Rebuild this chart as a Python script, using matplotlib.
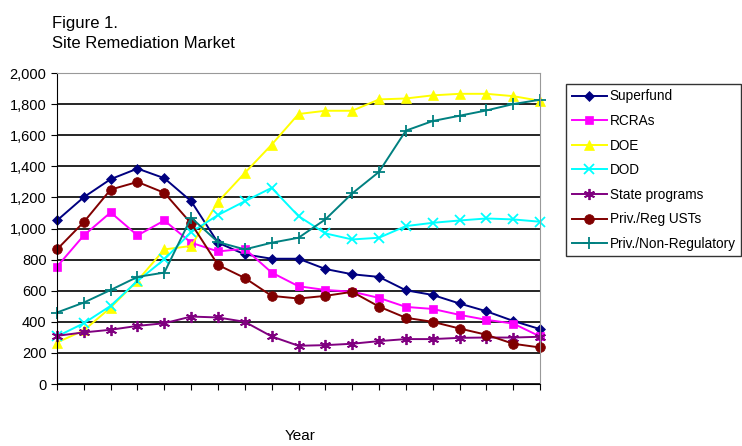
import matplotlib.pyplot as plt
import numpy as np

plt.rcParams['font.family'] = ['Liberation Sans', 'DejaVu Sans']

superfund = [1052, 1202, 1318, 1386, 1324, 1176, 909, 834, 806, 806, 740, 706, 689, 603, 573, 518, 468, 406, 353]
rcras = [755, 956, 1104, 956, 1052, 909, 853, 870, 717, 629, 605, 594, 554, 496, 483, 445, 413, 389, 306]
doe = [267, 345, 492, 665, 866, 888, 1172, 1358, 1540, 1737, 1758, 1758, 1831, 1837, 1857, 1867, 1867, 1852, 1822]
dod = [306, 391, 503, 663, 802, 977, 1087, 1176, 1262, 1080, 969, 930, 941, 1016, 1037, 1052, 1065, 1059, 1044]
state = [310, 332, 349, 374, 391, 434, 428, 400, 306, 246, 250, 259, 276, 289, 289, 297, 299, 299, 304]
priv_reg = [866, 1042, 1251, 1300, 1230, 1033, 766, 682, 567, 550, 567, 593, 498, 426, 400, 357, 317, 259, 235]
priv_nonreg = [460, 524, 605, 689, 717, 1070, 913, 866, 909, 941, 1059, 1226, 1365, 1630, 1692, 1726, 1760, 1801, 1829]

names = ['Superfund', 'RCRAs', 'DOE', 'DOD', 'State programs', 'Priv./Reg USTs', 'Priv./Non-Regulatory']
series = [superfund, rcras, doe, dod, state, priv_reg, priv_nonreg]
colors = ['#000080', '#FF00FF', '#FFFF00', '#00FFFF', '#800080', '#800000', '#008080']
markers = ['D', 's', '^', 'x', (6, 2, 0), 'o', '+']
msizes = [5, 6, 7, 7, 8, 7, 8]

fig = plt.figure(figsize=(7.42, 4.46), dpi=100)
ax = fig.add_axes([0.0768, 0.139, 0.651, 0.697])

x = np.arange(len(superfund))
for vals, name, c, m, ms in zip(series, names, colors, markers, msizes):
    ax.plot(x, vals, color=c, marker=m, markersize=ms, linewidth=1.4,
            markeredgewidth=1.3 if m in ('x', '+', (6, 2, 0)) else 0.5,
            markeredgecolor=c, label=name, clip_on=False)

ax.set_xlim(0, len(superfund) - 1)
ax.set_ylim(0, 2000)
ax.set_yticks(range(0, 2001, 200))
ax.set_yticklabels([f'{v:,}' for v in range(0, 2001, 200)], fontsize=10.5)
ax.set_xticks(x)
ax.set_xticklabels([])
ax.tick_params(axis='x', direction='out', length=4, color='black')
ax.tick_params(axis='y', direction='out', length=4, color='black')
ax.grid(axis='y', color='black', linewidth=1.2)
ax.set_axisbelow(True)
for s in ['top', 'right']:
    ax.spines[s].set_color('#999999')
for s in ['left', 'bottom']:
    ax.spines[s].set_color('black')

fig.text(0.07, 0.948, 'Figure 1.', fontsize=12, va='center')
fig.text(0.07, 0.902, 'Site Remediation Market', fontsize=12, va='center')
fig.text(0.405, 0.006, 'Year', fontsize=11, ha='center', va='bottom')

leg = fig.legend(loc='upper left', bbox_to_anchor=(0.763, 0.812), fontsize=9.8,
                 frameon=True, fancybox=False, edgecolor='black',
                 handlelength=2.6, labelspacing=0.78, borderpad=0.4,
                 handletextpad=0.2, borderaxespad=0)
leg.get_frame().set_linewidth(1.0)

fig.savefig('out.png', dpi=100)
